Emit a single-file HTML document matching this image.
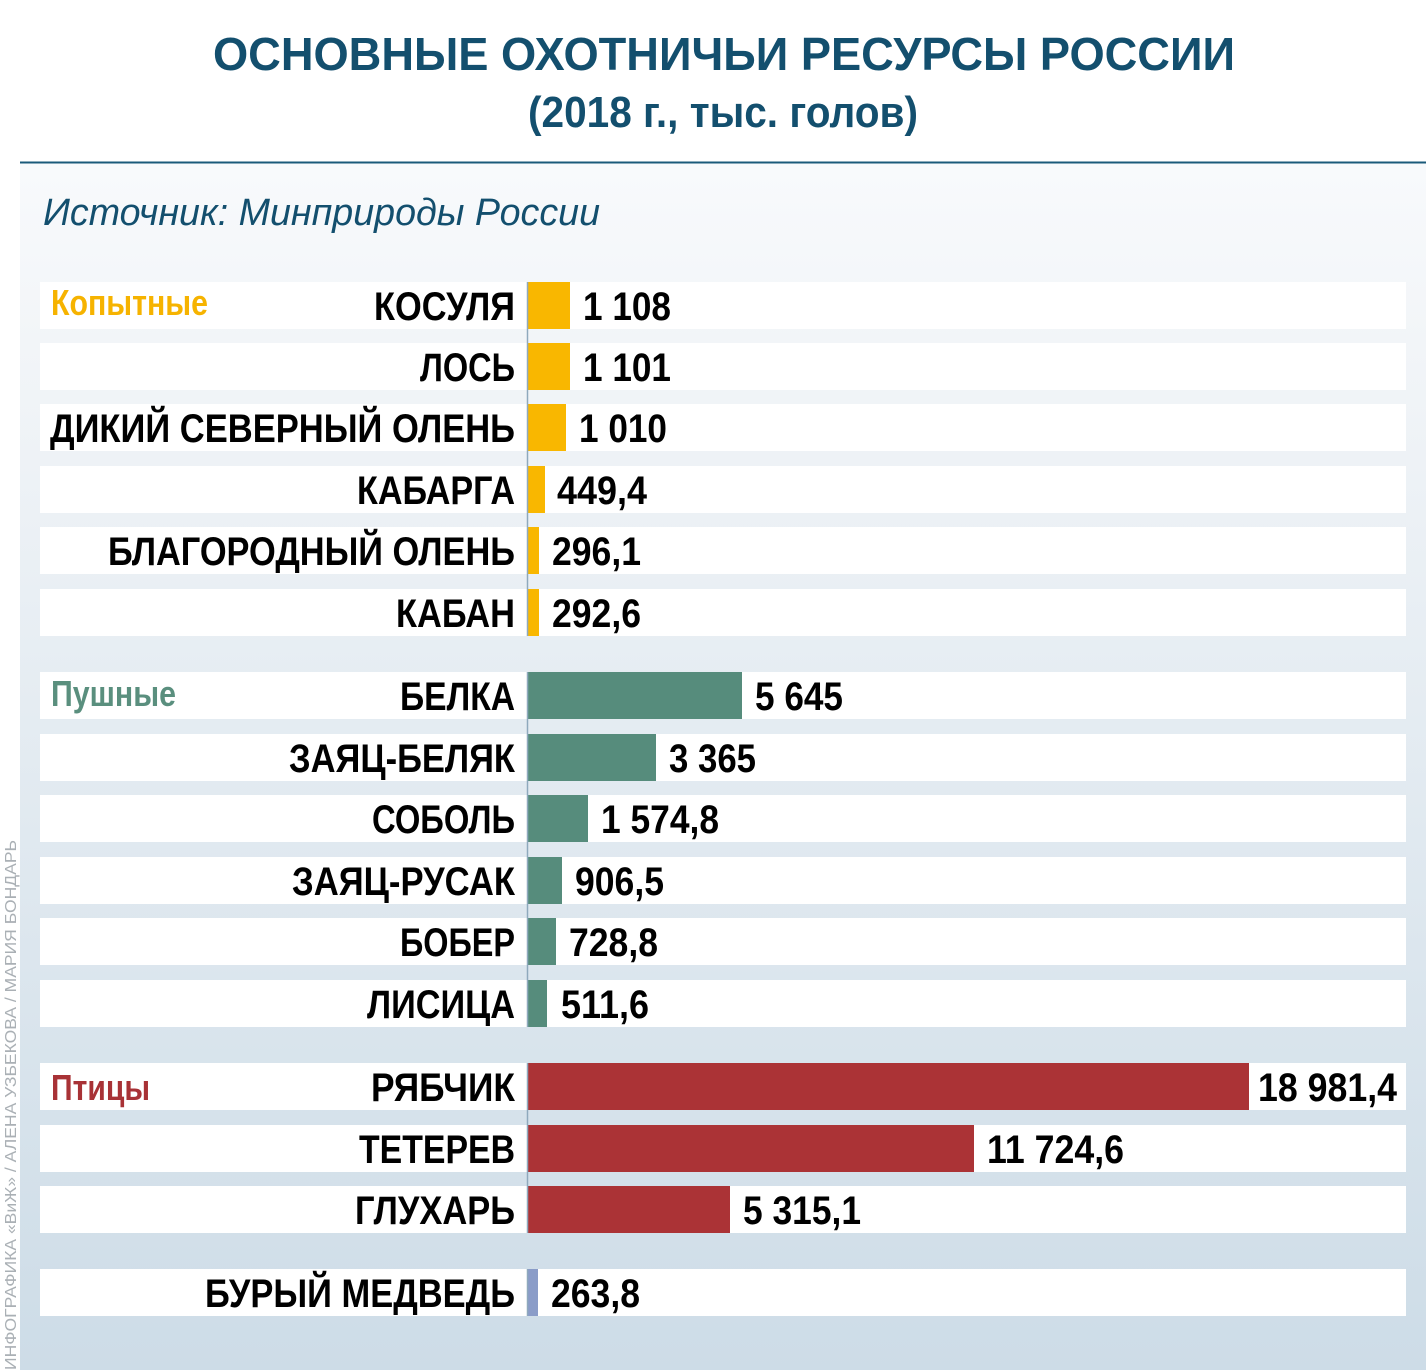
<!DOCTYPE html>
<html><head><meta charset="utf-8"><style>
html,body{margin:0;padding:0;background:#fff;}
svg{display:block;}
text{font-family:"Liberation Sans","DejaVu Sans",sans-serif;}
</style></head><body>
<svg width="1426" height="1370" viewBox="0 0 1426 1370" xmlns="http://www.w3.org/2000/svg">
<defs>
<linearGradient id="bg" x1="0" y1="0" x2="0" y2="1">
<stop offset="0" stop-color="#f8fafc"/>
<stop offset="0.15" stop-color="#f2f5f8"/>
<stop offset="1" stop-color="#cddce7"/>
</linearGradient>
</defs>
<rect x="0" y="0" width="1426" height="1370" fill="#fff"/>
<rect x="20" y="163" width="1406" height="1207" fill="url(#bg)"/>
<line x1="20" y1="162.5" x2="1426" y2="162.5" stroke="#1a5a7a" stroke-width="2"/>
<text x="724" y="70" text-anchor="middle" font-size="46" font-weight="bold" fill="#134f6e" textLength="1022" lengthAdjust="spacingAndGlyphs">ОСНОВНЫЕ ОХОТНИЧЬИ РЕСУРСЫ РОССИИ</text>
<text x="723" y="127" text-anchor="middle" font-size="44" font-weight="bold" fill="#134f6e" textLength="390" lengthAdjust="spacingAndGlyphs">(2018 г., тыс. голов)</text>
<text x="43" y="225" font-size="38" font-style="italic" fill="#134f6e" textLength="557" lengthAdjust="spacingAndGlyphs">Источник: Минприроды России</text>
<text transform="translate(16,1370) rotate(-90)" font-size="16" fill="#aab0b5" textLength="530" lengthAdjust="spacingAndGlyphs">ИНФОГРАФИКА «ВиЖ» / АЛЕНА УЗБЕКОВА / МАРИЯ БОНДАРЬ</text>
<g id="rows">
<!-- rows: top, label, labelWidth, barEnd, color, value, valWidth -->
</g>
<g font-weight="bold" font-size="40">
<rect x="40" y="282" width="1366" height="47" fill="#fff"/><text x="515" y="320" text-anchor="end" textLength="141" lengthAdjust="spacingAndGlyphs">КОСУЛЯ</text><rect x="528" y="282" width="42" height="47" fill="#f9b700"/><text x="583" y="320" textLength="88" lengthAdjust="spacingAndGlyphs">1 108</text>
<rect x="40" y="343" width="1366" height="47" fill="#fff"/><text x="515" y="381" text-anchor="end" textLength="95" lengthAdjust="spacingAndGlyphs">ЛОСЬ</text><rect x="528" y="343" width="42" height="47" fill="#f9b700"/><text x="583" y="381" textLength="88" lengthAdjust="spacingAndGlyphs">1 101</text>
<rect x="40" y="404" width="1366" height="47" fill="#fff"/><text x="515" y="442" text-anchor="end" textLength="465" lengthAdjust="spacingAndGlyphs">ДИКИЙ СЕВЕРНЫЙ ОЛЕНЬ</text><rect x="528" y="404" width="38" height="47" fill="#f9b700"/><text x="579" y="442" textLength="88" lengthAdjust="spacingAndGlyphs">1 010</text>
<rect x="40" y="466" width="1366" height="47" fill="#fff"/><text x="515" y="504" text-anchor="end" textLength="158" lengthAdjust="spacingAndGlyphs">КАБАРГА</text><rect x="528" y="466" width="17" height="47" fill="#f9b700"/><text x="557" y="504" textLength="90" lengthAdjust="spacingAndGlyphs">449,4</text>
<rect x="40" y="527" width="1366" height="47" fill="#fff"/><text x="515" y="565" text-anchor="end" textLength="407" lengthAdjust="spacingAndGlyphs">БЛАГОРОДНЫЙ ОЛЕНЬ</text><rect x="528" y="527" width="11" height="47" fill="#f9b700"/><text x="552" y="565" textLength="89" lengthAdjust="spacingAndGlyphs">296,1</text>
<rect x="40" y="589" width="1366" height="47" fill="#fff"/><text x="515" y="627" text-anchor="end" textLength="119" lengthAdjust="spacingAndGlyphs">КАБАН</text><rect x="528" y="589" width="11" height="47" fill="#f9b700"/><text x="552" y="627" textLength="89" lengthAdjust="spacingAndGlyphs">292,6</text>

<rect x="40" y="672" width="1366" height="47" fill="#fff"/><text x="515" y="710" text-anchor="end" textLength="115" lengthAdjust="spacingAndGlyphs">БЕЛКА</text><rect x="528" y="672" width="214" height="47" fill="#568c7c"/><text x="755" y="710" textLength="88" lengthAdjust="spacingAndGlyphs">5 645</text>
<rect x="40" y="734" width="1366" height="47" fill="#fff"/><text x="515" y="772" text-anchor="end" textLength="226" lengthAdjust="spacingAndGlyphs">ЗАЯЦ-БЕЛЯК</text><rect x="528" y="734" width="128" height="47" fill="#568c7c"/><text x="669" y="772" textLength="87" lengthAdjust="spacingAndGlyphs">3 365</text>
<rect x="40" y="795" width="1366" height="47" fill="#fff"/><text x="515" y="833" text-anchor="end" textLength="143" lengthAdjust="spacingAndGlyphs">СОБОЛЬ</text><rect x="528" y="795" width="60" height="47" fill="#568c7c"/><text x="601" y="833" textLength="118" lengthAdjust="spacingAndGlyphs">1 574,8</text>
<rect x="40" y="857" width="1366" height="47" fill="#fff"/><text x="515" y="895" text-anchor="end" textLength="223" lengthAdjust="spacingAndGlyphs">ЗАЯЦ-РУСАК</text><rect x="528" y="857" width="34" height="47" fill="#568c7c"/><text x="575" y="895" textLength="89" lengthAdjust="spacingAndGlyphs">906,5</text>
<rect x="40" y="918" width="1366" height="47" fill="#fff"/><text x="515" y="956" text-anchor="end" textLength="115" lengthAdjust="spacingAndGlyphs">БОБЕР</text><rect x="528" y="918" width="28" height="47" fill="#568c7c"/><text x="569" y="956" textLength="89" lengthAdjust="spacingAndGlyphs">728,8</text>
<rect x="40" y="980" width="1366" height="47" fill="#fff"/><text x="515" y="1018" text-anchor="end" textLength="148" lengthAdjust="spacingAndGlyphs">ЛИСИЦА</text><rect x="528" y="980" width="19" height="47" fill="#568c7c"/><text x="561" y="1018" textLength="88" lengthAdjust="spacingAndGlyphs">511,6</text>

<rect x="40" y="1063" width="1366" height="47" fill="#fff"/><text x="515" y="1101" text-anchor="end" textLength="144" lengthAdjust="spacingAndGlyphs">РЯБЧИК</text><rect x="528" y="1063" width="721" height="47" fill="#ab3336"/><text x="1258" y="1101" textLength="139" lengthAdjust="spacingAndGlyphs">18 981,4</text>
<rect x="40" y="1125" width="1366" height="47" fill="#fff"/><text x="515" y="1163" text-anchor="end" textLength="156" lengthAdjust="spacingAndGlyphs">ТЕТЕРЕВ</text><rect x="528" y="1125" width="446" height="47" fill="#ab3336"/><text x="987" y="1163" textLength="137" lengthAdjust="spacingAndGlyphs">11 724,6</text>
<rect x="40" y="1186" width="1366" height="47" fill="#fff"/><text x="515" y="1224" text-anchor="end" textLength="160" lengthAdjust="spacingAndGlyphs">ГЛУХАРЬ</text><rect x="528" y="1186" width="202" height="47" fill="#ab3336"/><text x="743" y="1224" textLength="118" lengthAdjust="spacingAndGlyphs">5 315,1</text>

<rect x="40" y="1269" width="1366" height="47" fill="#fff"/><text x="515" y="1307" text-anchor="end" textLength="310" lengthAdjust="spacingAndGlyphs">БУРЫЙ МЕДВЕДЬ</text><rect x="528" y="1269" width="10" height="47" fill="#8a9cc8"/><text x="551" y="1307" textLength="89" lengthAdjust="spacingAndGlyphs">263,8</text>
</g>
<line x1="527.5" y1="282" x2="527.5" y2="636" stroke="#8fa9bd" stroke-width="1.5"/>
<line x1="527.5" y1="672" x2="527.5" y2="1027" stroke="#8fa9bd" stroke-width="1.5"/>
<line x1="527.5" y1="1063" x2="527.5" y2="1233" stroke="#8fa9bd" stroke-width="1.5"/>
<line x1="527.5" y1="1269" x2="527.5" y2="1316" stroke="#8fa9bd" stroke-width="1.5"/>
<g font-weight="bold" font-size="36">
<text x="51" y="315" fill="#f6b300" textLength="157" lengthAdjust="spacingAndGlyphs">Копытные</text>
<text x="51" y="706" fill="#5a8f7e" textLength="125" lengthAdjust="spacingAndGlyphs">Пушные</text>
<text x="51" y="1100" fill="#a83236" textLength="99" lengthAdjust="spacingAndGlyphs">Птицы</text>
</g>
</svg>
</body></html>
